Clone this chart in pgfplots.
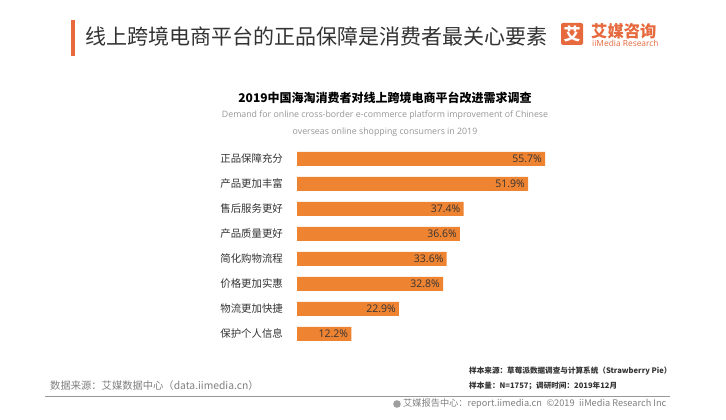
\documentclass[border=0pt]{standalone}
\usepackage{fontspec}
\usepackage{pgfplots}
\pgfplotsset{compat=1.18}
\setmainfont{Open Sans}
\newfontfamily\cjk{Noto Sans CJK SC}
\definecolor{barorange}{RGB}{238,131,50}
\definecolor{logored}{RGB}{230,106,62}
\definecolor{txt}{RGB}{51,51,51}
\definecolor{subgray}{RGB}{150,150,150}
\begin{document}
\begin{tikzpicture}[x=1pt,y=1pt]
\useasboundingbox (0,0) rectangle (726,420);
\fill[white] (0,0) rectangle (726,420);
% header
\fill[logored] (71,364) rectangle (75,400);
\node[anchor=west,inner sep=0pt,text=txt] at (85,383) {\cjk\fontsize{21}{24}\selectfont 线上跨境电商平台的正品保障是消费者最关心要素};
\fill[logored,rounded corners=1.5pt] (561,375) rectangle (583,397);
\node[inner sep=0pt,text=white] at (572,386) {\cjk\bfseries\fontsize{17}{18}\selectfont 艾};
\node[anchor=west,inner sep=0pt,text=logored] at (591,389) {\cjk\bfseries\fontsize{16.3}{17}\selectfont 艾媒咨询};
\node[anchor=west,inner sep=0pt,text=logored] at (592,377) {\fontsize{8.4}{9}\selectfont iiMedia Research};
% chart titles
\node[inner sep=0pt,text=black] at (385,322) {\cjk\bfseries\fontsize{12}{14}\selectfont 2019中国海淘消费者对线上跨境电商平台改进需求调查};
\node[inner sep=0pt,text=subgray] at (385,305) {\fontsize{8.8}{10}\selectfont Demand for online cross-border e-commerce platform improvement of Chinese};
\node[inner sep=0pt,text=subgray] at (385,288) {\fontsize{8.8}{10}\selectfont overseas online shopping consumers in 2019};
% chart
\begin{axis}[
  at={(297pt,73.5pt)}, anchor=south west,
  width=248pt, height=200pt, scale only axis,
  xbar, bar width=14pt,
  xmin=0, xmax=55.7,
  ymin=-0.5, ymax=7.5, y dir=reverse,
  ytick={0,1,2,3,4,5,6,7},
  yticklabels={正品保障充分,产品更加丰富,售后服务更好,产品质量更好,简化购物流程,价格更加实惠,物流更加快捷,保护个人信息},
  yticklabel style={font=\cjk\fontsize{10.4}{12}\selectfont, text=txt, anchor=east, inner sep=0pt, xshift=-14pt},
  xtick=\empty,
  major tick length=0pt,
  axis line style={draw=none},
  clip=false,
  /pgf/number format/assume math mode=true,
  nodes near coords={\pgfmathprintnumber[fixed,precision=1,fixed zerofill,assume math mode=true]{\pgfplotspointmeta}\%},
  nodes near coords style={anchor=east, inner sep=0pt, xshift=-3pt, text=txt, font=\fontsize{10.5}{12}\selectfont},
]
\addplot[fill=barorange, draw=none] coordinates {
(55.7,0) (51.9,1) (37.4,2) (36.6,3) (33.6,4) (32.8,5) (22.9,6) (12.2,7)};
\end{axis}
% footer
\node[anchor=west,inner sep=0pt,text=txt] at (469,49) {\cjk\bfseries\fontsize{7.6}{9}\selectfont 样本来源：草莓派数据调查与计算系统（Strawberry Pie）};
\node[anchor=west,inner sep=0pt,text=txt] at (469,34) {\cjk\bfseries\fontsize{7.6}{9}\selectfont 样本量：N=1757；调研时间：2019年12月};
\node[anchor=west,inner sep=0pt,text=gray] at (50,34) {\cjk\fontsize{10.3}{12}\selectfont 数据来源：艾媒数据中心（data.iimedia.cn）};
\draw[gray!80,line width=0.9pt] (45,23.5) -- (670,23.5);
\fill[gray!75] (397,16) circle (3.8pt);
\node[anchor=west,inner sep=0pt,text=gray] at (403,16) {\cjk\fontsize{9.2}{11}\selectfont 艾媒报告中心：report.iimedia.cn\enspace ©2019\enspace iiMedia Research Inc};
\end{tikzpicture}
\end{document}
